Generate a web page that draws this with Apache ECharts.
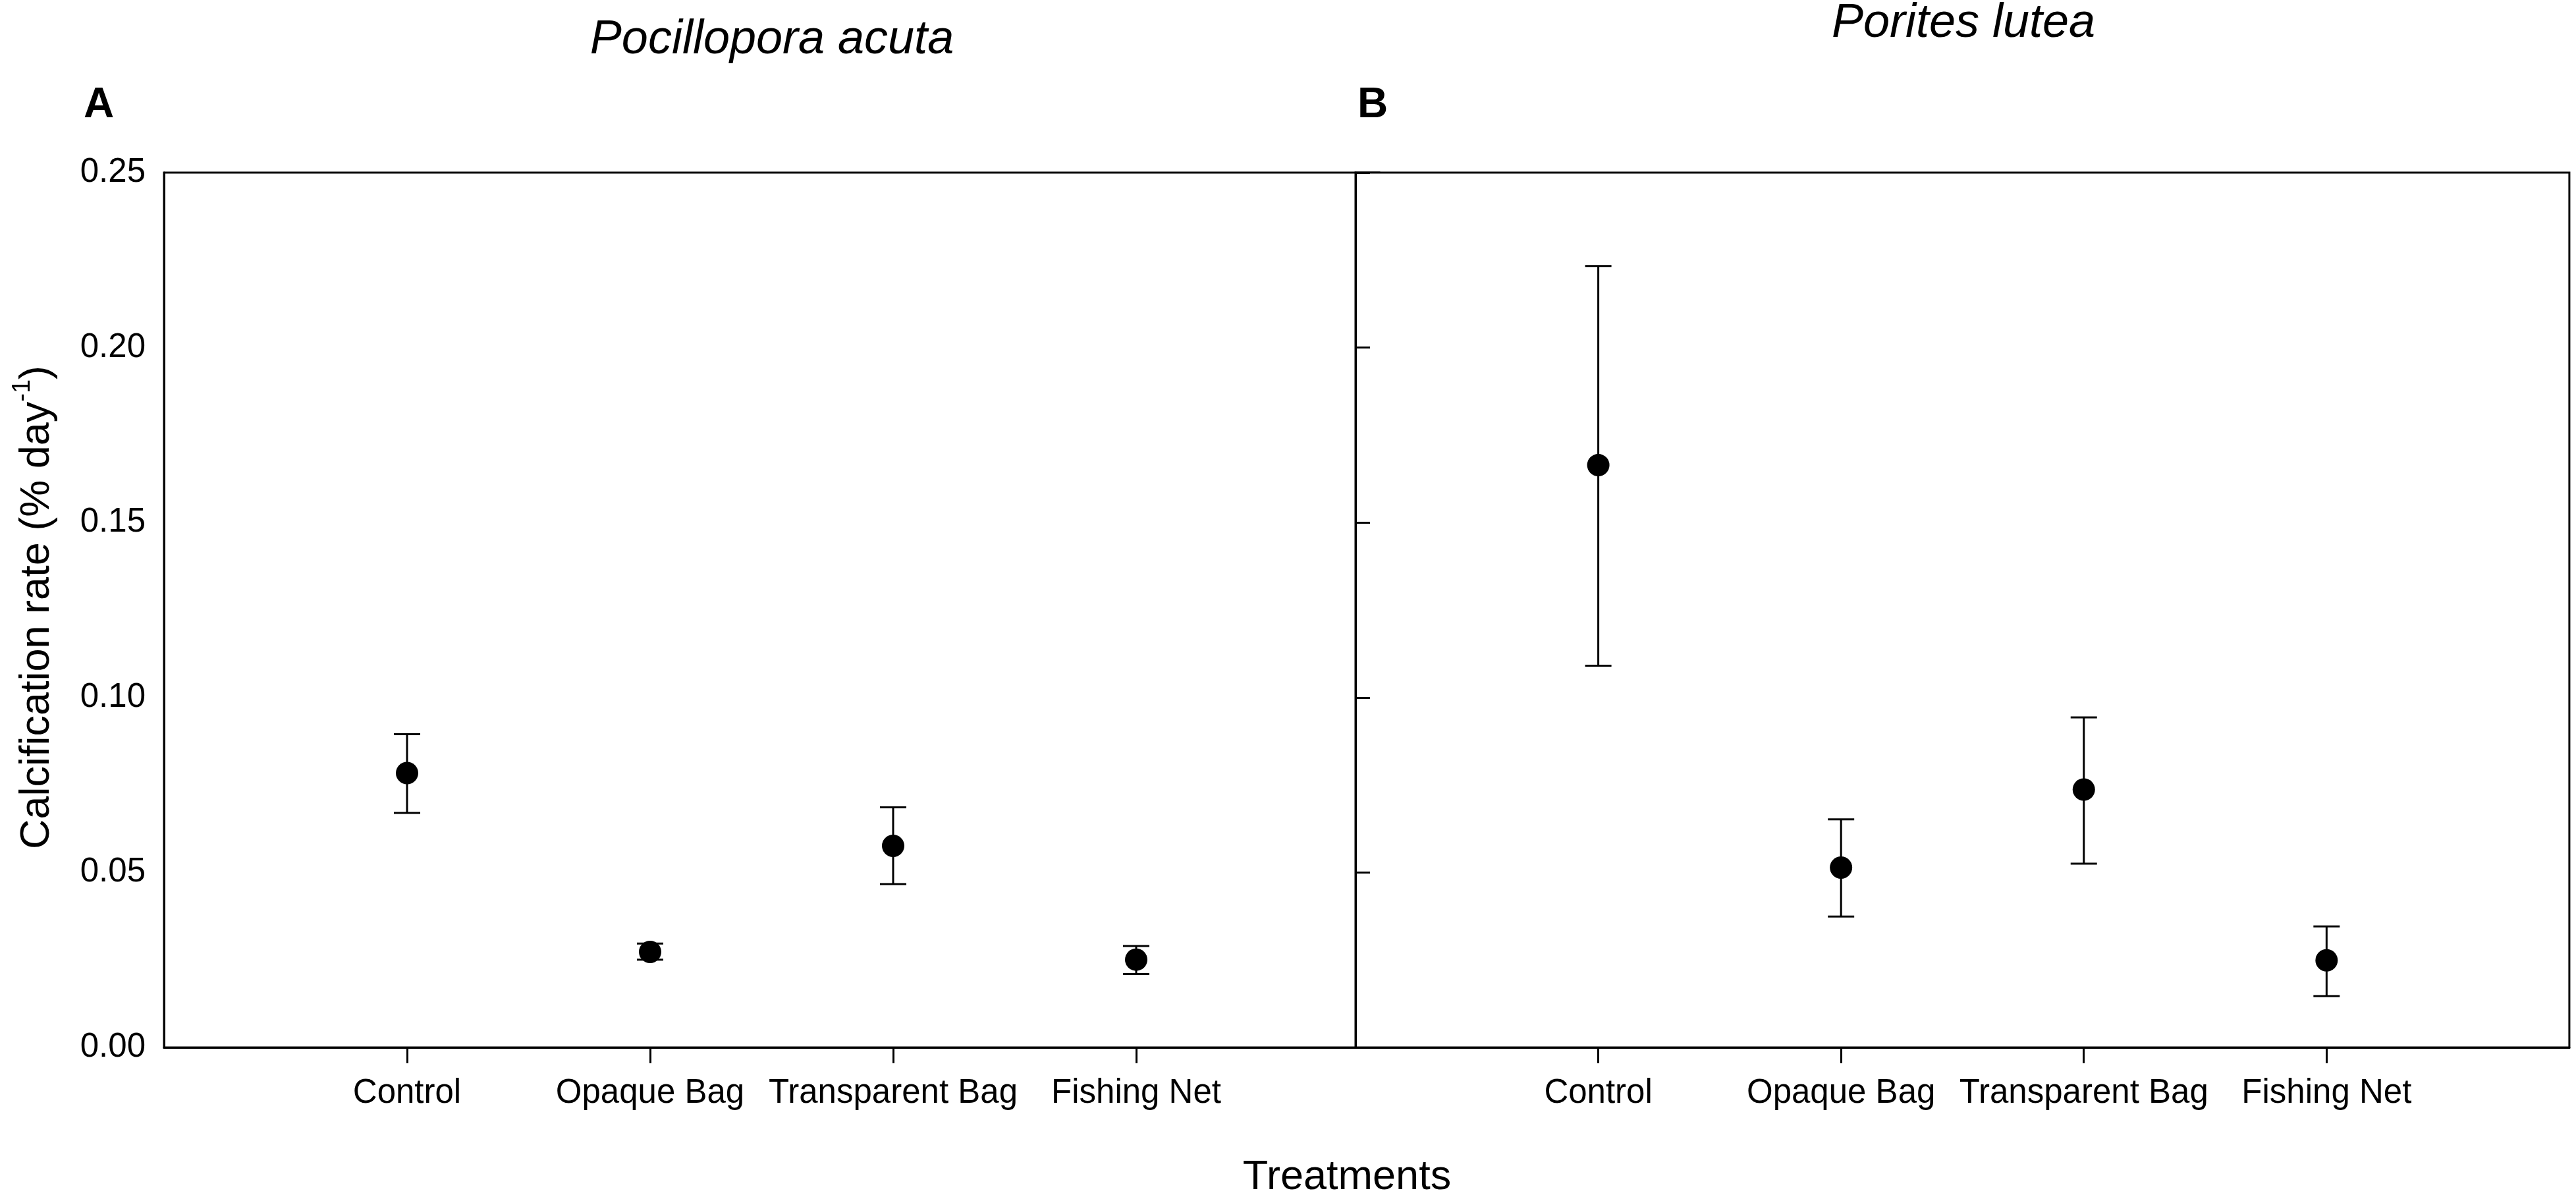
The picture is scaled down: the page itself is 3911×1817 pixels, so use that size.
<!DOCTYPE html>
<html>
<head>
<meta charset="utf-8">
<script src="https://cdn.jsdelivr.net/npm/echarts@6/dist/echarts.min.js"></script>
<style>
html,body{margin:0;padding:0;background:#fff;}
#chart{width:3911px;height:1817px;}
</style>
</head>
<body>
<div id="chart"></div>
<script>
// ---- data ----
const categories = ['Control', 'Opaque Bag', 'Transparent Bag', 'Fishing Net'];
const yMin = 0, yMax = 0.25, yStep = 0.05;

// Panel A: Pocillopora acuta
const pocilloporaMean  = [0.0784, 0.0273, 0.0576, 0.0251];
const pocilloporaUpper = [0.0895, 0.0297, 0.0686, 0.0290];
const pocilloporaLower = [0.0670, 0.0251, 0.0467, 0.0210];

// Panel B: Porites lutea
const poritesMean  = [0.1664, 0.0514, 0.0737, 0.0249];
const poritesUpper = [0.2233, 0.0652, 0.0943, 0.0346];
const poritesLower = [0.1091, 0.0374, 0.0525, 0.0147];

// ---- chart ----
const FONT = "'Liberation Sans', Arial, sans-serif";
const padded = [''].concat(categories, [' ']);
const isCat = (i) => i >= 1 && i <= categories.length;

function pts(mean) { return mean.map((v, i) => [i + 1, v]); }
function bars(lo, hi) { return lo.map((v, i) => [i + 1, v, hi[i]]); }

function errRender(params, api) {
  const x = api.value(0);
  const p1 = api.coord([x, api.value(1)]);
  const p2 = api.coord([x, api.value(2)]);
  const hw = 20;
  const st = { stroke: '#000', lineWidth: 3 };
  return {
    type: 'group',
    children: [
      { type: 'line', shape: { x1: p1[0], y1: p1[1], x2: p2[0], y2: p2[1] }, style: st },
      { type: 'line', shape: { x1: p1[0] - hw, y1: p1[1], x2: p1[0] + hw, y2: p1[1] }, style: st },
      { type: 'line', shape: { x1: p2[0] - hw, y1: p2[1], x2: p2[0] + hw, y2: p2[1] }, style: st }
    ]
  };
}

function xAxisCfg(gi, z) {
  return {
    type: 'category', gridIndex: gi, data: padded, boundaryGap: false, z: z,
    axisLine: { show: true, lineStyle: { color: '#000', width: 3 } },
    axisTick: { show: true, length: 24, interval: (i) => isCat(i), lineStyle: { color: '#000', width: 3 } },
    axisLabel: { show: true, interval: 0, margin: 44, color: '#000', fontSize: 51, fontFamily: FONT },
    splitLine: { show: false }
  };
}

const option = {
  backgroundColor: '#fff',
  animation: false,
  grid: [
    { left: 249, top: 262, width: 1845, height: 1328, show: true, borderColor: '#000', borderWidth: 3, backgroundColor: 'transparent', z: 0 },
    { left: 2058, top: 262, width: 1843, height: 1328, show: true, borderColor: '#000', borderWidth: 3, backgroundColor: '#fff', z: 1 }
  ],
  xAxis: [xAxisCfg(0, 0), xAxisCfg(1, 2)],
  yAxis: [
    {
      type: 'value', gridIndex: 0, min: yMin, max: yMax, interval: yStep,
      axisLine: { show: true, lineStyle: { color: '#000', width: 3 } },
      axisTick: { show: false },
      axisLabel: { margin: 28, color: '#000', fontSize: 51, fontFamily: FONT, formatter: (v) => v.toFixed(2) },
      splitLine: { show: false }
    },
    {
      type: 'value', gridIndex: 1, min: yMin, max: yMax, interval: yStep, z: 2,
      axisLine: { show: true, lineStyle: { color: '#000', width: 3 } },
      axisTick: { show: true, inside: true, length: 22, lineStyle: { color: '#000', width: 3 } },
      axisLabel: { show: false },
      splitLine: { show: false }
    }
  ],
  series: [
    { type: 'custom', xAxisIndex: 0, yAxisIndex: 0, renderItem: errRender, data: bars(pocilloporaLower, pocilloporaUpper), z: 3 },
    { type: 'scatter', xAxisIndex: 0, yAxisIndex: 0, data: pts(pocilloporaMean), symbol: 'circle', symbolSize: 34, itemStyle: { color: '#000', opacity: 1 }, z: 4 },
    { type: 'custom', xAxisIndex: 1, yAxisIndex: 1, renderItem: errRender, data: bars(poritesLower, poritesUpper), z: 3 },
    { type: 'scatter', xAxisIndex: 1, yAxisIndex: 1, data: pts(poritesMean), symbol: 'circle', symbolSize: 34, itemStyle: { color: '#000', opacity: 1 }, z: 4 }
  ],
  graphic: [
    { type: 'text', x: 1172, y: 61, z: 10, style: { text: 'Pocillopora acuta', fontSize: 72, fontStyle: 'italic', fontFamily: FONT, fill: '#000', align: 'center', verticalAlign: 'middle' } },
    { type: 'text', x: 2981, y: 36, z: 10, style: { text: 'Porites lutea', fontSize: 72, fontStyle: 'italic', fontFamily: FONT, fill: '#000', align: 'center', verticalAlign: 'middle' } },
    { type: 'text', x: 127, y: 160, z: 10, style: { text: 'A', fontSize: 64, fontWeight: 'bold', fontFamily: FONT, fill: '#000', align: 'left', verticalAlign: 'middle' } },
    { type: 'text', x: 2061, y: 160, z: 10, style: { text: 'B', fontSize: 64, fontWeight: 'bold', fontFamily: FONT, fill: '#000', align: 'left', verticalAlign: 'middle' } },
    { type: 'text', x: 2045, y: 1788, z: 10, style: { text: 'Treatments', fontSize: 63, fontFamily: FONT, fill: '#000', align: 'center', verticalAlign: 'middle' } },
    {
      type: 'text', x: 52, y: 922, rotation: Math.PI / 2, z: 10,
      style: {
        text: '{n|Calcification rate (% day}{s|-1}{n|)}',
        align: 'center', verticalAlign: 'middle', fill: '#000',
        rich: {
          n: { fontSize: 63, fontFamily: FONT, fill: '#000', lineHeight: 72, verticalAlign: 'bottom' },
          s: { fontSize: 38, fontFamily: FONT, fill: '#000', lineHeight: 72, verticalAlign: 'top' }
        }
      }
    }
  ]
};

const chart = echarts.init(document.getElementById('chart'));
chart.setOption(option);
</script>
</body>
</html>
